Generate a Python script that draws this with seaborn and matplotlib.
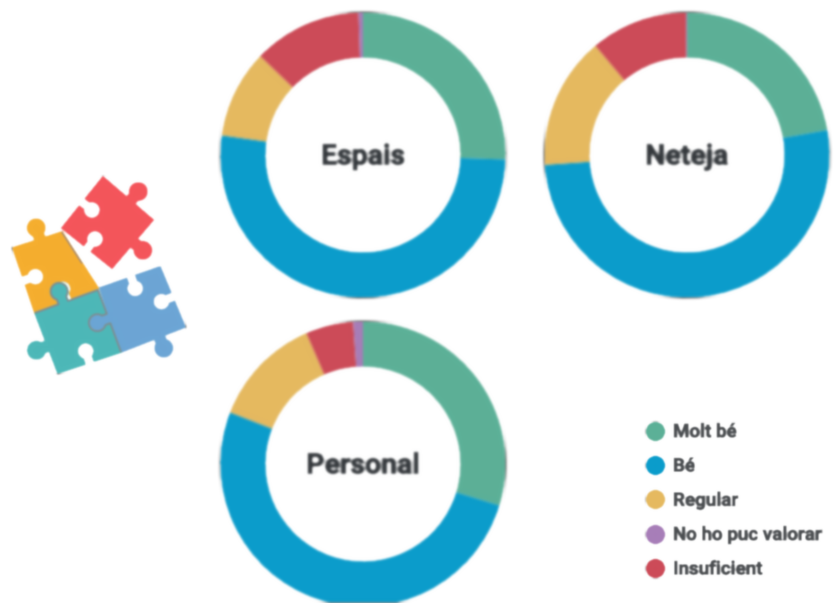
import numpy as np
import seaborn as sns
import matplotlib.pyplot as plt
import matplotlib.patheffects as pe
from matplotlib.lines import Line2D
from matplotlib.patches import Polygon

# Values (percent)
categories = ['Molt bé', 'Bé', 'Regular', 'No ho puc valorar', 'Insuficient']
espais = [25.5, 51.7, 10.0, 0.5, 12.3]
neteja = [22.2, 51.7, 15.0, 0.1, 11.0]
personal = [29.7, 51.2, 12.6, 1.1, 5.4]

colors = ['#5BB097', '#0A9CCB', '#E5B95F', '#A77DB8', '#CC4A57']
# slices run clockwise with red before purple
slice_order = [0, 1, 2, 4, 3]

W, H = 834, 603
R = 143
RING = 46

sns.set_theme(style='white')
plt.rcParams['font.family'] = ['Roboto', 'DejaVu Sans']


def blur(image, dpi, sigma=1.4):
    # soft look of the scanned original
    pad = 5
    img = np.pad(image, ((pad, pad), (pad, pad), (0, 0)))
    x = np.arange(-pad, pad + 1)
    k = np.exp(-x**2 / (2 * sigma**2))
    k = k / k.sum()
    for axis in (0, 1):
        img = np.apply_along_axis(lambda v: np.convolve(v, k, mode='same'), axis, img)
    return img, -pad, -pad


def donut(cx, cy, values, label):
    ax = fig.add_axes([(cx - R - 2) / W, 1 - (cy + R + 2) / H, (2 * R + 4) / W, (2 * R + 4) / H])
    ax.pie([values[i] for i in slice_order], colors=[colors[i] for i in slice_order],
           startangle=90, counterclock=False, radius=1,
           wedgeprops={'width': RING / R, 'linewidth': 0})
    ax.set_xlim(-(R + 2) / R, (R + 2) / R)
    ax.set_ylim(-(R + 2) / R, (R + 2) / R)
    ax.text(0, -2 / R, label, ha='center', va='center', fontsize=20.5, fontweight='bold', color='#33373B',
            path_effects=[pe.withStroke(linewidth=0.9, foreground='#33373B')])
    ax.set_agg_filter(blur)
    return ax


def edge_points(a, b, knob, t=0.5, r=8.5, neck=5, dist=12):
    # one side of a puzzle piece, knob: +1 out, -1 in, 0 straight
    a, b = np.array(a, float), np.array(b, float)
    if knob == 0:
        return [a]
    d = (b - a) / np.linalg.norm(b - a)
    n = np.array([d[1], -d[0]])  # outward for clockwise corners on a y-down axis
    base = a + (b - a) * t
    centre = base + n * knob * dist
    start = np.arcsin(neck / r)
    angles = np.linspace(start, 2 * np.pi - start, 24)
    arc = [centre - n * knob * r * np.cos(v) - d * r * np.sin(v) for v in angles]
    return [a, base - d * neck] + arc + [base + d * neck]


def piece(corners, sides):
    pts = []
    for i, (knob, t) in enumerate(sides):
        pts += edge_points(corners[i], corners[(i + 1) % 4], knob, t)
    return np.array(pts)


fig = plt.figure(figsize=(W / 100, H / 100), dpi=100)
fig.patch.set_facecolor('white')

donut(363, 155, espais, 'Espais')
donut(687, 155, neteja, 'Neteja')
donut(363, 464, personal, 'Personal')

# Puzzle drawing, pixel coordinates
deco = fig.add_axes([0, 0, 1, 1])
deco.set_xlim(0, W)
deco.set_ylim(H, 0)
deco.axis('off')
deco.patch.set_alpha(0)

RED, ORANGE, TEAL, BLUE = '#F4545A', '#F5AE2E', '#4CB8B8', '#6BA5D5'
pieces = [
    (ORANGE, [(13, 248), (62, 232), (98, 288), (35, 313)], [(1, .55), (0, .5), (-1, .49), (-1, .5)]),
    (RED, [(103, 177), (153, 220), (112, 268), (62, 228)], [(1, .55), (1, .47), (-1, .49), (-1, .5)]),
    (BLUE, [(100, 288), (160, 267), (185, 327), (121, 352)], [(-1, .52), (-1, .5), (1, .4), (1, .54)]),
    (TEAL, [(35, 313), (98, 290), (121, 352), (58, 373)], [(1, .45), (-1, .46), (-1, .5), (1, .45)]),
]
for col, corners, sides in pieces:
    deco.add_patch(Polygon(piece(corners, sides), closed=True, fc=col, ec=col, lw=1.5, joinstyle='round'))
# grey seams where the pieces meet
teal = pieces[3]
for i in (0, 1):
    seam = np.array(edge_points(teal[1][i], teal[1][i + 1], teal[2][i][0], teal[2][i][1]) + [teal[1][i + 1]])
    deco.plot(seam[:, 0], seam[:, 1], color='#8F8088', lw=1)
deco.plot([62, 82], [232, 263], color='#8F8088', lw=1)
deco.set_agg_filter(lambda im, dpi: blur(im, dpi, 1.0))

# Legend
handles = [Line2D([], [], marker='o', linestyle='none', markersize=14, markerfacecolor=colors[i],
                  markeredgewidth=0, label=categories[i]) for i in range(len(categories))]
leg = fig.legend(handles=handles, loc='upper left', bbox_to_anchor=(634 / W, 1 - 417.6 / H),
                 frameon=False, labelspacing=0.87, handlelength=1.6, handletextpad=0.18,
                 borderaxespad=0, borderpad=0.3, labelcolor='#4A4D50',
                 prop={'weight': 'bold', 'size': 13.5})
for t in leg.get_texts():
    t.set_path_effects([pe.withStroke(linewidth=0.5, foreground='#4A4D50')])
leg.set_agg_filter(lambda im, dpi: blur(im, dpi, 0.9))

fig.savefig('out.png', dpi=100, facecolor='white')
